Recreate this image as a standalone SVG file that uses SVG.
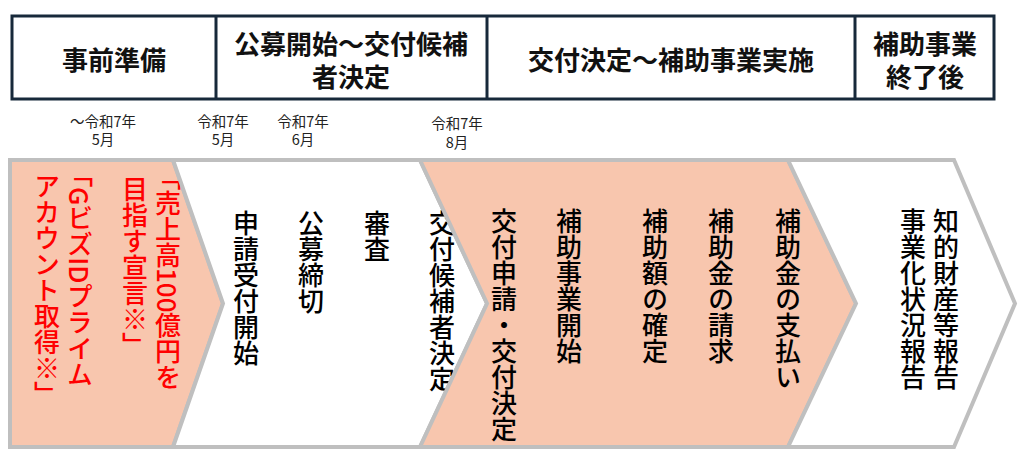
<svg xmlns="http://www.w3.org/2000/svg" width="1024" height="469" viewBox="0 0 1024 469">
<style>
.hdr{font-family:"Noto Sans CJK JP","Noto Sans",sans-serif;font-size:26px;font-weight:bold;fill:#111;text-anchor:middle}
.date{font-family:"Noto Sans CJK JP","Noto Sans",sans-serif;font-size:14.5px;fill:#222;text-anchor:middle}
.v{font-family:"Noto Sans CJK JP","Noto Sans",sans-serif;font-size:26px;font-weight:500;fill:#000;writing-mode:vertical-rl}
.red{fill:#ff0000}
.salmon{fill:#f8c6ae;stroke:#bfbfbf;stroke-width:4;stroke-linejoin:miter}
.white{fill:#ffffff;stroke:#bfbfbf;stroke-width:4;stroke-linejoin:miter}
.box{fill:#fff;stroke:#17293a;stroke-width:3}
</style>
<rect width="1024" height="469" fill="#fff"/>
<g id="header">
<rect class="box" x="12" y="16" width="982" height="83"/>
<line x1="216" y1="16" x2="216" y2="99" stroke="#17293a" stroke-width="3"/>
<line x1="487" y1="16" x2="487" y2="99" stroke="#17293a" stroke-width="3"/>
<line x1="855" y1="16" x2="855" y2="99" stroke="#17293a" stroke-width="3"/>
<text class="hdr" x="114" y="70">事前準備</text>
<text class="hdr" x="351" y="54">公募開始～交付候補<tspan x="351" y="87">者決定</tspan></text>
<text class="hdr" x="671" y="70">交付決定～補助事業実施</text>
<text class="hdr" x="925" y="54">補助事業<tspan x="925" y="87">終了後</tspan></text>
</g>
<g id="dates">
<text class="date" x="103" y="127">～令和7年<tspan x="103" y="145">5月</tspan></text>
<text class="date" x="223" y="127">令和7年<tspan x="223" y="145">5月</tspan></text>
<text class="date" x="303" y="127">令和7年<tspan x="303" y="145">6月</tspan></text>
<text class="date" x="457" y="129">令和7年<tspan x="457" y="148">8月</tspan></text>
</g>
<g id="stage1">
<polygon class="salmon" points="10,160 173,160 223,303.5 173,447 10,447"/>
<text class="v red" x="168" y="164">「売上高100億円を</text>
<text class="v red" x="135" y="176">目指す宣言※」</text>
<text class="v red" x="80" y="161">「GビズIDプライム</text>
<text class="v red" x="47" y="173">アカウント取得※」</text>
</g>
<g id="stage2">
<polygon class="white" points="173,160 420,160 487,303.5 420,447 173,447 223,303.5"/>
<text class="v" x="246" y="210">申請受付開始</text>
<text class="v" x="311" y="210">公募締切</text>
<text class="v" x="377" y="210">審査</text>
<text class="v" x="442" y="210">交付候補者決定</text>
</g>
<g id="stage3">
<polygon class="salmon" points="420,160 788,160 856,303.5 788,447 420,447 487,303.5"/>
<text class="v" x="504" y="208">交付申請・交付決定</text>
<text class="v" x="569" y="208">補助事業開始</text>
<text class="v" x="655" y="208">補助額の確定</text>
<text class="v" x="721" y="208">補助金の請求</text>
<text class="v" x="788" y="208">補助金の支払い</text>
</g>
<g id="stage4">
<polygon class="white" points="788,160 954,160 1015,303.5 954,447 788,447 856,303.5"/>
<text class="v" x="946" y="208">知的財産等報告</text>
<text class="v" x="913" y="208">事業化状況報告</text>
</g>
<g id="connectors"></g>
</svg>
